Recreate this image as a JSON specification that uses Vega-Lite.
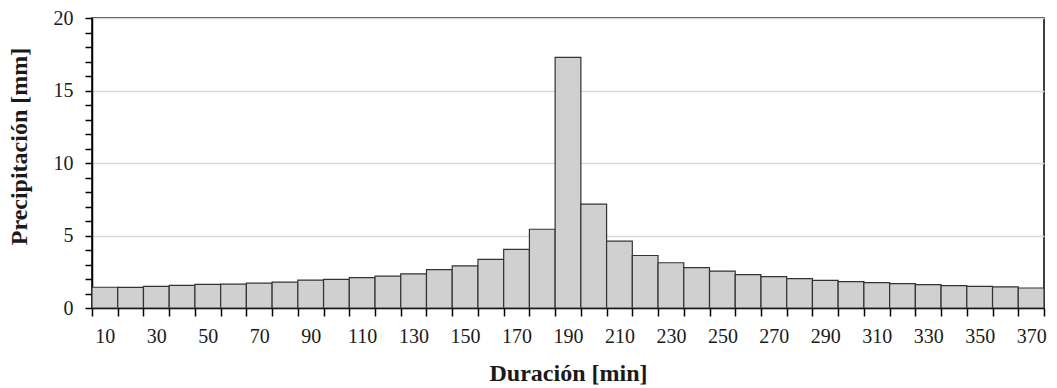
{
  "$schema": "https://vega.github.io/schema/vega-lite/v6.json",
  "autosize": {"type": "none"},
  "padding": {"left": 92, "top": 18, "right": 13, "bottom": 80},
  "width": 952,
  "height": 290,
  "background": "white",
  "config": {
    "view": {"stroke": "#000000", "strokeWidth": 1.5},
    "font": "Liberation Serif",
    "axis": {
      "labelFont": "Liberation Serif",
      "titleFont": "Liberation Serif",
      "labelColor": "#1a1a1a",
      "titleColor": "#1a1a1a"
    }
  },
  "data": {
    "values": [
      {"t": 10, "p": 1.43}, {"t": 20, "p": 1.42}, {"t": 30, "p": 1.49}, {"t": 40, "p": 1.56},
      {"t": 50, "p": 1.63}, {"t": 60, "p": 1.64}, {"t": 70, "p": 1.71}, {"t": 80, "p": 1.79},
      {"t": 90, "p": 1.92}, {"t": 100, "p": 1.98}, {"t": 110, "p": 2.09}, {"t": 120, "p": 2.2},
      {"t": 130, "p": 2.36}, {"t": 140, "p": 2.64}, {"t": 150, "p": 2.9}, {"t": 160, "p": 3.36},
      {"t": 170, "p": 4.05}, {"t": 180, "p": 5.43}, {"t": 190, "p": 17.28}, {"t": 200, "p": 7.16},
      {"t": 210, "p": 4.61}, {"t": 220, "p": 3.62}, {"t": 230, "p": 3.12}, {"t": 240, "p": 2.79},
      {"t": 250, "p": 2.55}, {"t": 260, "p": 2.3}, {"t": 270, "p": 2.16}, {"t": 280, "p": 2.02},
      {"t": 290, "p": 1.9}, {"t": 300, "p": 1.82}, {"t": 310, "p": 1.75}, {"t": 320, "p": 1.68},
      {"t": 330, "p": 1.61}, {"t": 340, "p": 1.55}, {"t": 350, "p": 1.49}, {"t": 360, "p": 1.46},
      {"t": 370, "p": 1.38}
    ]
  },
  "mark": {"type": "bar", "fill": "#d1d0d1", "stroke": "#333333", "strokeWidth": 1.2},
  "encoding": {
    "x": {
      "field": "t",
      "type": "ordinal",
      "sort": null,
      "scale": {"paddingInner": 0, "paddingOuter": 0},
      "axis": {
        "title": "Duración [min]",
        "titleFontSize": 24,
        "titleFontWeight": "bold",
        "titlePadding": 15,
        "labelFontSize": 20,
        "labelAngle": 0,
        "labelPadding": 10,
        "labelExpr": "datum.value % 20 == 10 ? datum.label : ''",
        "tickBand": "extent",
        "tickSize": 8,
        "tickWidth": 1.5,
        "tickColor": "#000000",
        "domainColor": "#000000",
        "domainWidth": 1.5,
        "grid": false
      }
    },
    "y": {
      "field": "p",
      "type": "quantitative",
      "scale": {"domain": [0, 20], "nice": false},
      "axis": {
        "title": "Precipitación [mm]",
        "titleFontSize": 24,
        "titleFontWeight": "bold",
        "titlePadding": 22,
        "titleY": 128,
        "labelFontSize": 20,
        "labelPadding": 12,
        "values": [0,1,2,3,4,5,6,7,8,9,10,11,12,13,14,15,16,17,18,19,20],
        "labelExpr": "datum.value % 5 == 0 ? datum.label : ''",
        "tickSize": 7,
        "tickWidth": 1.5,
        "tickColor": "#000000",
        "domainColor": "#000000",
        "domainWidth": 1.5,
        "grid": true,
        "gridColor": "#d9d9d9",
        "gridWidth": 1.5,
        "gridOpacity": {"condition": {"test": "datum.value % 5 != 0", "value": 0}, "value": 1}
      }
    }
  }
}
